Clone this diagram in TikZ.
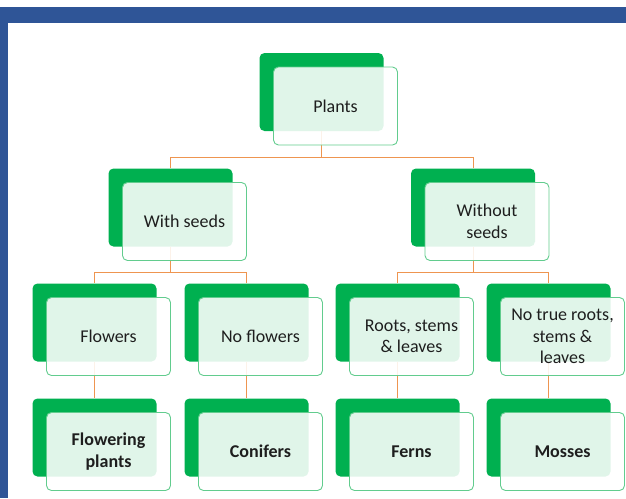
\documentclass[tikz,border=0pt]{standalone}
\usepackage{fontspec}
\setmainfont{Carlito}
\usetikzlibrary{positioning, calc}
\definecolor{frameblue}{HTML}{2F5597}
\definecolor{boxgreen}{HTML}{00B050}
\definecolor{edgegreen}{HTML}{62CC8E}
\definecolor{linkorange}{HTML}{EE9550}
\definecolor{inktext}{HTML}{1E1E1E}

\tikzset{
	back/.style={fill=boxgreen, rounded corners=5pt, minimum width=124pt, minimum height=78pt, inner sep=0pt},
	front/.style={draw=edgegreen, line width=0.9pt, fill=white, fill opacity=0.88, text opacity=1, rounded corners=5pt, minimum width=124pt, minimum height=78pt, inner sep=2pt, align=center, text=inktext, font={\fontsize{18}{21.5}\selectfont}},
	link/.style={draw=linkorange, line width=0.9pt},
}

\begin{document}
\begin{tikzpicture}[x=1pt, y=-1pt]
	\def\dx{14}
	\def\dy{14}
	\useasboundingbox (0,0) rectangle (626,498);
	\fill[frameblue]	(0,7) rectangle (626,23);
	\fill[frameblue]	(0,7) rectangle (8,498);
	
	% green blocks behind
	\foreach \name/\x/\y in {plants/321.5/92, seeds/170.5/207.5, noseeds/473/207.5, flowers/94.5/322.5, noflowers/246.5/322.5, roots/397.5/322.5, noroots/548.5/322.5, flowering/94.5/437.5, conifers/246.5/437.5, ferns/397.5/437.5, mosses/548.5/437.5} {
		\node[back] (\name) at (\x,\y) {};
	}
	
	% connectors
	\foreach \up/\down in {plants/seeds, plants/noseeds, seeds/flowers, seeds/noflowers, noseeds/roots, noseeds/noroots} {
		\draw[link]	(\up.south) |- ([yshift=11pt]\down.north) -- (\down.north);
	}
	\foreach \up/\down in {flowers/flowering, noflowers/conifers, roots/ferns, noroots/mosses} {
		\draw[link]	(\up.south) -- (\down.north);
	}
	
	% text boxes
	\foreach \name/\txt in {plants/Plants, seeds/With seeds, noseeds/{Without\\seeds}, flowers/Flowers, noflowers/No flowers, roots/{Roots, stems\\\& leaves}, noroots/{No true roots,\\stems \&\\leaves}} {
		\node[front] (\name-t) at ([xshift=\dx pt, yshift=-\dy pt]\name.center) {\txt};
	}
	\foreach \name/\txt in {flowering/{Flowering\\plants}, conifers/Conifers, ferns/Ferns, mosses/Mosses} {
		\node[front, font={\fontsize{18}{21.5}\selectfont\bfseries}] (\name-t) at ([xshift=\dx pt, yshift=-\dy pt]\name.center) {\txt};
	}
	
\end{tikzpicture}
\end{document}
